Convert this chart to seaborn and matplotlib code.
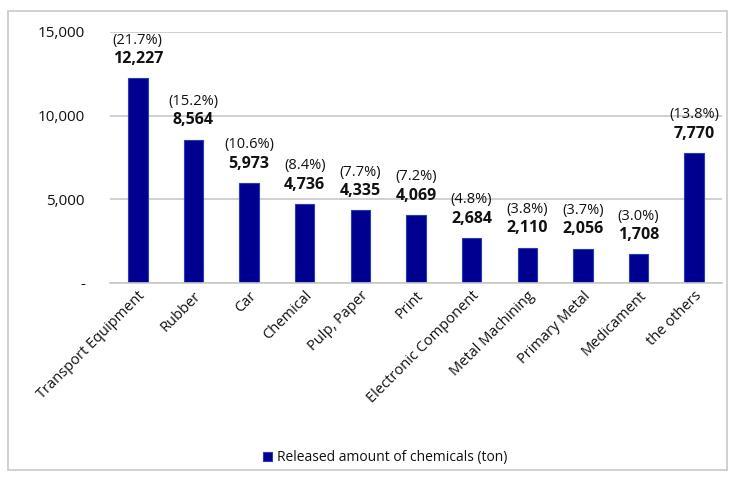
import matplotlib
matplotlib.use("Agg")
import matplotlib.pyplot as plt
import seaborn as sns
import pandas as pd
from matplotlib.patches import Rectangle

categories = ["Transport Equipment", "Rubber", "Car", "Chemical", "Pulp, Paper", "Print",
              "Electronic Component", "Metal Machining", "Primary Metal", "Medicament", "the others"]
values = [12227, 8564, 5973, 4736, 4335, 4069, 2684, 2110, 2056, 1708, 7770]
percents = ["21.7%", "15.2%", "10.6%", "8.4%", "7.7%", "7.2%", "4.8%", "3.8%", "3.7%", "3.0%", "13.8%"]
series_name = "Released amount of chemicals (ton)"
ytick_vals = [0, 5000, 10000, 15000]
ytick_labels = ["-", "5,000", "10,000", "15,000"]

sns.set_theme(style="white")
plt.rcParams['font.family'] = ['Open Sans', 'DejaVu Sans']
plt.rcParams['text.color'] = '#111111'
plt.rcParams['xtick.color'] = '#111111'
plt.rcParams['ytick.color'] = '#111111'

df = pd.DataFrame({"cat": categories, "val": values, "series": series_name})

fig = plt.figure(figsize=(7.33, 4.82), dpi=100)
ax = fig.add_axes([0.150, 0.413, 0.835, 0.521])
color = "#000090"
sns.barplot(data=df, x="cat", y="val", hue="series", palette=[color], width=0.35, ax=ax,
            legend=True, saturation=1, edgecolor="#2a3cb0", linewidth=0.8)

ax.set_ylim(0, 15000)
ax.set_yticks(ytick_vals)
ax.set_yticklabels(ytick_labels, fontsize=11)
ax.yaxis.grid(True, color="#c8c8c8", linewidth=1.2)
ax.set_axisbelow(True)
for s in ["top", "right", "left"]:
    ax.spines[s].set_visible(False)
ax.spines["bottom"].set_color("#c8c8c8")
ax.spines["bottom"].set_linewidth(1.2)
ax.tick_params(axis="both", length=0, pad=4)
ax.set_xlabel("")
ax.set_ylabel("")
ax.set_xticks(range(len(categories)))
ax.set_xticklabels(categories, rotation=45, ha="right", rotation_mode="anchor", fontsize=10.5)
ax.tick_params(axis="y", pad=18)

for i, (v, p) in enumerate(zip(values, percents)):
    ax.annotate(f"{v:,}", (i, v), xytext=(0, 8), textcoords="offset points",
                ha="center", va="bottom", fontsize=11.5, fontweight="bold", color="#111111")
    ax.annotate(f"({p})", (i, v), xytext=(0, 22), textcoords="offset points",
                ha="center", va="bottom", fontsize=10.5, color="#111111")

leg = ax.legend(loc="center", frameon=False, fontsize=10, handlelength=0.7, handleheight=0.7,
                handletextpad=0.3)
leg.set_bbox_to_anchor((0.525, 0.05), transform=fig.transFigure)

fig.patches.append(Rectangle((8 / 733, 1 - 470 / 482), 719 / 733, 459 / 482,
                             transform=fig.transFigure, fill=False, edgecolor="#c8c8c8",
                             linewidth=1.2))

fig.savefig("out.png", dpi=100)
